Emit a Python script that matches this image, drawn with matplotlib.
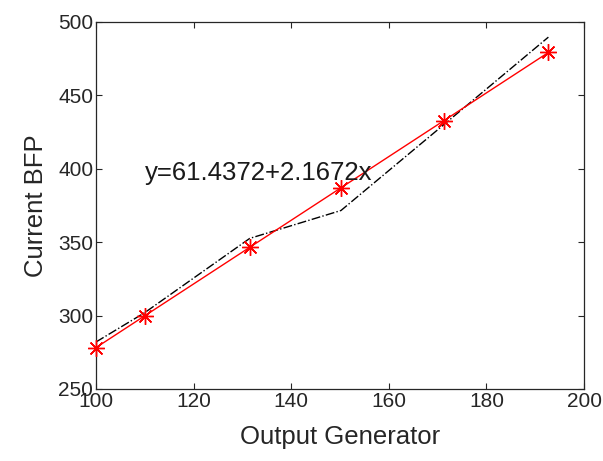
import numpy as np
import matplotlib
matplotlib.use('Agg')
import matplotlib.pyplot as plt

plt.rcParams['font.family'] = ['Liberation Sans', 'DejaVu Sans']

# output generator vs current BFP
gen = [100.0, 110.0, 131.5, 150.2, 171.3, 192.7]
bfp = [282.0, 302.0, 352.5, 371.5, 430.0, 489.5]

# linear fit shown on the chart
b0 = 61.4372
b1 = 2.1672
fit_label = 'y=61.4372+2.1672x'

gen = np.array(gen)
bfp_fit = b0 + b1 * gen

fig = plt.figure(figsize=(6.03, 4.61), dpi=100)
ax = fig.add_axes([0.1592, 0.1562, 0.8093, 0.7967])

ax.plot(gen, bfp, color='black', linestyle='-.', linewidth=1.0)
ax.plot(gen, bfp_fit, color='red', linewidth=1.0, marker=(8, 2, 0), markersize=12,
        markeredgewidth=1.0, clip_on=False, zorder=3)

ax.text(110, 397, fit_label, fontsize=18.5, color='#1a1a1a', va='center', ha='left')

ax.set_xlim(100, 200)
ax.set_ylim(250, 500)
ax.set_xticks([100, 120, 140, 160, 180, 200])
ax.set_yticks([250, 300, 350, 400, 450, 500])
ax.tick_params(direction='in', top=True, right=True, length=4, width=0.8,
               labelsize=15, colors='#262626', pad=2)
for s in ax.spines.values():
    s.set_color('#262626')
    s.set_linewidth(0.9)

ax.set_xlabel('Output Generator', fontsize=18.5, color='#262626', labelpad=10)
ax.set_ylabel('Current BFP', fontsize=18.5, color='#262626', labelpad=7)

fig.savefig('out.png', dpi=100)
